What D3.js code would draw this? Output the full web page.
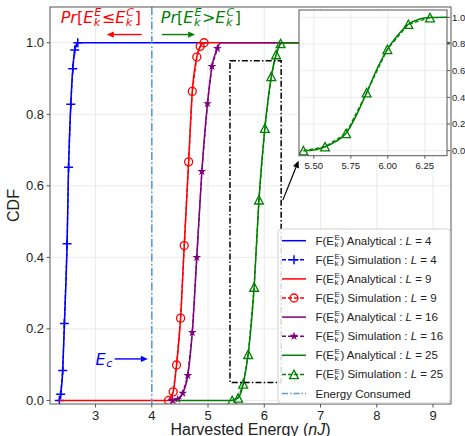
<!DOCTYPE html>
<html>
<head>
<meta charset="UTF-8">
<style>
  body { margin: 0; background: #fff; }
  text { font-family: "Liberation Sans", Arial, sans-serif; white-space: pre; }
</style>
</head>
<body>
<svg id="chart" width="465" height="436"></svg>
<script src="https://d3js.org/d3.v7.min.js"></script>
<script>
// ---- data ----
const xTicks = [3, 4, 5, 6, 7, 8, 9];
const yTicks = [0, 0.2, 0.4, 0.6, 0.8, 1.0];
const insetXTicks = [5.5, 5.75, 6.0, 6.25];
const insetYTicks = [0, 0.2, 0.4, 0.6, 0.8, 1.0];
const energyConsumed = 4;

// analytical curves [energy, cdf]
const anaL4 = [[2.35,0],[2.38,0.017],[2.416,0.084],[2.446,0.215],[2.494,0.438],[2.52,0.652],[2.56,0.828],[2.595,0.927],[2.63,0.98],[2.684,1],[5.0,1]];
const anaL9 = [[2.35,0],[4.298,0],[4.38,0.024],[4.44,0.099],[4.512,0.23],[4.577,0.433],[4.655,0.667],[4.72,0.864],[4.80,0.96],[4.86,0.99],[4.93,1],[9.3,1]];
const anaL16 = [[4.30,0],[4.37,0],[4.46,0.003],[4.55,0.02],[4.64,0.07],[4.72,0.19],[4.80,0.40],[4.89,0.64],[4.99,0.83],[5.07,0.934],[5.166,0.984],[5.22,1],[9.3,1]];
const anaL25 = [[4.45,0],[5.43,0],[5.536,0.007],[5.625,0.046],[5.714,0.129],[5.82,0.317],[5.905,0.561],[6.01,0.761],[6.125,0.906],[6.21,0.967],[6.29,0.998],[6.35,1],[9.3,1]];

// simulation points
const simL4 = [[2.357,0],[2.38,0.017],[2.416,0.084],[2.446,0.215],[2.494,0.438],[2.52,0.652],[2.56,0.828],[2.595,0.927],[2.63,0.98],[2.684,1]];
const simL9 = [[4.298,0],[4.38,0.024],[4.44,0.099],[4.512,0.23],[4.577,0.433],[4.655,0.667],[4.72,0.864],[4.80,0.96],[4.86,0.99],[4.93,1]];
const simL16 = [[4.37,0],[4.46,0.003],[4.55,0.02],[4.64,0.07],[4.72,0.19],[4.80,0.40],[4.89,0.64],[4.99,0.83],[5.07,0.934],[5.166,0.984]];
const simL25 = [[5.43,0],[5.536,0.007],[5.625,0.046],[5.714,0.129],[5.82,0.317],[5.905,0.561],[6.01,0.761],[6.125,0.906],[6.21,0.967],[6.29,0.998]];

// inset (zoom of L = 25)
const insetAna = [[5.43,0],[5.5,0.006],[5.576,0.03],[5.65,0.07],[5.718,0.13],[5.79,0.27],[5.857,0.435],[5.93,0.62],[5.997,0.76],[6.07,0.87],[6.139,0.948],[6.21,0.985],[6.285,0.998],[6.4,1]];
const insetSim = [[5.43,0],[5.576,0.03],[5.718,0.13],[5.857,0.435],[5.997,0.76],[6.139,0.948],[6.285,0.998]];

const seriesL = [4, 9, 16, 25];
const seriesColor = ["#0000ff", "#ff0000", "#800080", "#008000"];
const seriesMarker = ["plus", "circle", "star", "triangle"];

// zoom box and annotations, in data units
const zoomBox = [5.39, 6.30, 0.05, 0.95];
const zoomArrow = [[6.33, 0.56], [6.61, 0.67]];
const leftArrow = [[3.82, 1.023], [3.20, 1.023]];
const rightArrow = [[4.18, 1.023], [4.77, 1.023]];
const ecArrow = [[3.34, 0.116], [3.93, 0.116]];
const leftLabelPos = [2.38, 1.055];
const rightLabelPos = [4.16, 1.055];
const ecLabelPos = [3.0, 0.1];

// ---- layout ----
const svg = d3.select("#chart");
const M = { l: 50, r: 451, t: 7, b: 404 };
const x = d3.scaleLinear([2.19, 9.32], [M.l, M.r]);
const y = d3.scaleLinear([-0.01, 1.1], [M.b, M.t]);
const I = { l: 299, r: 447, t: 10, b: 155.7 };
const xi = d3.scaleLinear([5.4, 6.4], [I.l, I.r]);
const yi = d3.scaleLinear([-0.0375, 1.055], [I.b, I.t]);

const defs = svg.append("defs");
defs.append("clipPath").attr("id", "mainClip").append("rect")
  .attr("x", M.l).attr("y", M.t).attr("width", M.r - M.l).attr("height", M.b - M.t);
defs.append("clipPath").attr("id", "insetClip").append("rect")
  .attr("x", I.l).attr("y", I.t).attr("width", I.r - I.l).attr("height", I.b - I.t);

const gridColor = "#e6e6e6", spineColor = "#555";

// grid
const grid = svg.append("g");
grid.selectAll(".gx").data(xTicks).join("line")
  .attr("x1", d => x(d)).attr("x2", d => x(d)).attr("y1", M.t).attr("y2", M.b)
  .attr("stroke", gridColor).attr("stroke-width", 0.8);
grid.selectAll(".gy").data(yTicks).join("line")
  .attr("y1", d => y(d)).attr("y2", d => y(d)).attr("x1", M.l).attr("x2", M.r)
  .attr("stroke", gridColor).attr("stroke-width", 0.8);

// markers
function drawMarker(g, type, cx, cy, color) {
  if (type === "plus") {
    g.append("path").attr("d", `M${cx-4.5},${cy}H${cx+4.5}M${cx},${cy-4.5}V${cy+4.5}`)
      .attr("stroke", color).attr("stroke-width", 1.5).attr("fill", "none");
  } else if (type === "circle") {
    g.append("circle").attr("cx", cx).attr("cy", cy).attr("r", 4)
      .attr("fill", "none").attr("stroke", color).attr("stroke-width", 1.3);
  } else if (type === "star") {
    g.append("path").attr("d", d3.symbol(d3.symbolStar, 24)())
      .attr("transform", `translate(${cx},${cy})`).attr("fill", color);
  } else if (type === "triangle") {
    g.append("path").attr("d", `M${cx},${cy-4.2}L${cx+4.4},${cy+4.2}L${cx-4.4},${cy+4.2}Z`)
      .attr("fill", "none").attr("stroke", color).attr("stroke-width", 1.3);
  }
}

const smooth = (sx, sy) => d3.line().x(d => sx(d[0])).y(d => sy(d[1])).curve(d3.curveMonotoneX);
const straight = (sx, sy) => d3.line().x(d => sx(d[0])).y(d => sy(d[1]));

const plot = svg.append("g").attr("clip-path", "url(#mainClip)");
const anaData = [anaL4, anaL9, anaL16, anaL25];
const simData = [simL4, simL9, simL16, simL25];
seriesL.forEach((L, i) => {
  plot.append("path").attr("d", smooth(x, y)(anaData[i]))
    .attr("fill", "none").attr("stroke", seriesColor[i]).attr("stroke-width", 1.5);
  plot.append("path").attr("d", straight(x, y)(simData[i]))
    .attr("fill", "none").attr("stroke", seriesColor[i]).attr("stroke-width", 1.3)
    .attr("stroke-dasharray", "4,2");
  simData[i].forEach(p => drawMarker(plot, seriesMarker[i], x(p[0]), y(p[1]), seriesColor[i]));
});

// energy consumed line
const ecColor = "#5b9dcf";
svg.append("line").attr("x1", x(energyConsumed)).attr("x2", x(energyConsumed))
  .attr("y1", M.t).attr("y2", M.b).attr("stroke", ecColor).attr("stroke-width", 1.6)
  .attr("stroke-dasharray", "8,2.5,1.5,2.5");

// zoom box
svg.append("rect").attr("x", x(zoomBox[0])).attr("y", y(zoomBox[3]))
  .attr("width", x(zoomBox[1]) - x(zoomBox[0])).attr("height", y(zoomBox[2]) - y(zoomBox[3]))
  .attr("fill", "none").attr("stroke", "#000").attr("stroke-width", 1.5)
  .attr("stroke-dasharray", "6,2.2,1.5,2.2");

// spines + ticks
svg.append("rect").attr("x", M.l).attr("y", M.t).attr("width", M.r - M.l).attr("height", M.b - M.t)
  .attr("fill", "none").attr("stroke", spineColor).attr("stroke-width", 1);
const xt = svg.append("g");
xTicks.forEach(t => {
  xt.append("line").attr("x1", x(t)).attr("x2", x(t)).attr("y1", M.b).attr("y2", M.b + 3.5)
    .attr("stroke", spineColor);
  xt.append("text").attr("x", x(t)).attr("y", M.b + 16).attr("text-anchor", "middle")
    .style("font-size", "13px").attr("fill", "#222").text(t);
});
yTicks.forEach(t => {
  xt.append("line").attr("x1", M.l - 3.5).attr("x2", M.l).attr("y1", y(t)).attr("y2", y(t))
    .attr("stroke", spineColor);
  xt.append("text").attr("x", M.l - 6).attr("y", y(t) + 4.5).attr("text-anchor", "end")
    .style("font-size", "13px").attr("fill", "#222").text(t.toFixed(1));
});
svg.append("text").attr("transform", `translate(19,${(M.t + M.b) / 2}) rotate(-90)`)
  .attr("text-anchor", "middle").style("font-size", "16px").attr("fill", "#222").text("CDF");
const xl = svg.append("text").attr("x", (M.l + M.r) / 2).attr("y", 435).attr("text-anchor", "middle")
  .style("font-size", "16px").attr("fill", "#222");
xl.append("tspan").text("Harvested Energy (");
xl.append("tspan").style("font-style", "italic").text("nJ");
xl.append("tspan").text(")");

// math-like text: parts are {t, it} or {sup, sub}
function mathText(g, px, py, parts, size, color, font) {
  const grp = g.append("g").attr("transform", `translate(${px},${py})`);
  let cx = 0;
  const add = (str, xx, yy, fs, it) => grp.append("text").attr("x", xx).attr("y", yy)
    .style("font-size", fs + "px").style("font-family", font)
    .style("font-style", it ? "italic" : "normal").attr("fill", color).text(str);
  parts.forEach(p => {
    if (p.sup !== undefined) {
      const fs = size * 0.7;
      const a = add(p.sup, cx + (p.it ? 1 : 0.5), -size * 0.42, fs, p.it);
      const b = add(p.sub, cx + 0.5, size * 0.17, fs, p.it);
      cx += Math.max(a.node().getComputedTextLength() + (p.it ? 1 : 0.5), b.node().getComputedTextLength() + 0.5) + 0.5;
    } else {
      const a = add(p.t, cx, 0, size, p.it);
      cx += a.node().getComputedTextLength();
    }
  });
  return cx;
}

// arrows
function arrow(g, p0, p1, color, lw, head) {
  const x0 = x(p0[0]), y0 = y(p0[1]), x1 = x(p1[0]), y1 = y(p1[1]);
  const ang = Math.atan2(y1 - y0, x1 - x0);
  const bx = x1 - head * Math.cos(ang), by = y1 - head * Math.sin(ang);
  g.append("line").attr("x1", x0).attr("y1", y0).attr("x2", bx).attr("y2", by)
    .attr("stroke", color).attr("stroke-width", lw);
  const w = head * 0.45;
  g.append("path").attr("d",
    `M${x1},${y1}L${bx + w * Math.sin(ang)},${by - w * Math.cos(ang)}L${bx - w * Math.sin(ang)},${by + w * Math.cos(ang)}Z`)
    .attr("fill", color);
}
const ann = svg.append("g");
arrow(ann, leftArrow[0], leftArrow[1], "#ff0000", 1.4, 7);
arrow(ann, rightArrow[0], rightArrow[1], "#008000", 1.4, 7);
arrow(ann, ecArrow[0], ecArrow[1], "#0000ff", 1.4, 7);
arrow(ann, zoomArrow[0], zoomArrow[1], "#000", 1.2, 7);

const mathFont = "DejaVu Sans";
mathText(ann, x(leftLabelPos[0]), y(leftLabelPos[1]),
  [{t: "Pr", it: 1}, {t: "["}, {t: "E", it: 1}, {sup: "E", sub: "k", it: 1}, {t: "≤"},
   {t: "E", it: 1}, {sup: "C", sub: "k", it: 1}, {t: "]"}], 16, "#ff0000", mathFont);
mathText(ann, x(rightLabelPos[0]), y(rightLabelPos[1]),
  [{t: "Pr", it: 1}, {t: "["}, {t: "E", it: 1}, {sup: "E", sub: "k", it: 1}, {t: ">"},
   {t: "E", it: 1}, {sup: "C", sub: "k", it: 1}, {t: "]"}], 16, "#008000", mathFont);
mathText(ann, x(ecLabelPos[0]), y(ecLabelPos[1]),
  [{t: "E", it: 1}, {sup: "", sub: "c", it: 1}], 16, "#0000ff", mathFont);

// legend
const lg = svg.append("g");
const LX = 278, LY = 229, LW = 172, LH = 174, rowH = 19.1;
lg.append("rect").attr("x", LX).attr("y", LY).attr("width", LW).attr("height", LH).attr("rx", 3)
  .attr("fill", "#fff").attr("fill-opacity", 0.85).attr("stroke", "#d0d0d0").attr("stroke-width", 1);
let row = 0;
const legFont = "Liberation Sans";
seriesL.forEach((L, i) => {
  ["Analytical", "Simulation"].forEach((kind, k) => {
    const cy = LY + 11.7 + row * rowH;
    const ln = lg.append("line").attr("x1", LX + 4).attr("x2", LX + 28).attr("y1", cy).attr("y2", cy)
      .attr("stroke", seriesColor[i]).attr("stroke-width", 1.5);
    if (k === 1) {
      ln.attr("stroke-dasharray", "4,2");
      drawMarker(lg, seriesMarker[i], LX + 16, cy, seriesColor[i]);
    }
    mathText(lg, LX + 37.5, cy + 4, [{t: "F(E"}, {sup: "E", sub: "k"}, {t: ") " + kind + " : "},
      {t: "L", it: 1}, {t: " = " + L}], 11.5, "#222", legFont);
    row++;
  });
});
{
  const cy = LY + 11.7 + row * rowH;
  lg.append("line").attr("x1", LX + 4).attr("x2", LX + 28).attr("y1", cy).attr("y2", cy)
    .attr("stroke", ecColor).attr("stroke-width", 1.5).attr("stroke-dasharray", "6,2,1.5,2");
  lg.append("text").attr("x", LX + 37.5).attr("y", cy + 4).style("font-size", "11.5px")
    .attr("fill", "#222").text("Energy Consumed");
}

// inset
const ins = svg.append("g");
ins.append("rect").attr("x", I.l).attr("y", I.t).attr("width", I.r - I.l).attr("height", I.b - I.t)
  .attr("fill", "#fff");
ins.selectAll(".igx").data(insetXTicks).join("line")
  .attr("x1", d => xi(d)).attr("x2", d => xi(d)).attr("y1", I.t).attr("y2", I.b)
  .attr("stroke", gridColor).attr("stroke-width", 0.8);
ins.selectAll(".igy").data(insetYTicks).join("line")
  .attr("y1", d => yi(d)).attr("y2", d => yi(d)).attr("x1", I.l).attr("x2", I.r)
  .attr("stroke", gridColor).attr("stroke-width", 0.8);
const insPlot = ins.append("g").attr("clip-path", "url(#insetClip)");
insPlot.append("path").attr("d", smooth(xi, yi)(insetAna)).attr("fill", "none")
  .attr("stroke", seriesColor[3]).attr("stroke-width", 1.5);
insPlot.append("path").attr("d", straight(xi, yi)(insetSim)).attr("fill", "none")
  .attr("stroke", seriesColor[3]).attr("stroke-width", 1.3).attr("stroke-dasharray", "4,2");
insetSim.forEach(p => drawMarker(insPlot, "triangle", xi(p[0]), yi(p[1]), seriesColor[3]));
ins.append("rect").attr("x", I.l).attr("y", I.t).attr("width", I.r - I.l).attr("height", I.b - I.t)
  .attr("fill", "none").attr("stroke", spineColor).attr("stroke-width", 1);
insetXTicks.forEach(t => {
  ins.append("line").attr("x1", xi(t)).attr("x2", xi(t)).attr("y1", I.b).attr("y2", I.b + 3)
    .attr("stroke", spineColor);
  ins.append("text").attr("x", xi(t)).attr("y", I.b + 13).attr("text-anchor", "middle")
    .style("font-size", "9.5px").attr("fill", "#222").text(t.toFixed(2));
});
insetYTicks.forEach(t => {
  ins.append("line").attr("x1", I.r).attr("x2", I.r + 3).attr("y1", yi(t)).attr("y2", yi(t))
    .attr("stroke", spineColor);
  ins.append("text").attr("x", I.r + 5).attr("y", yi(t) + 3.4)
    .style("font-size", "9.5px").attr("fill", "#222").text(t.toFixed(1));
});
</script>
</body>
</html>
